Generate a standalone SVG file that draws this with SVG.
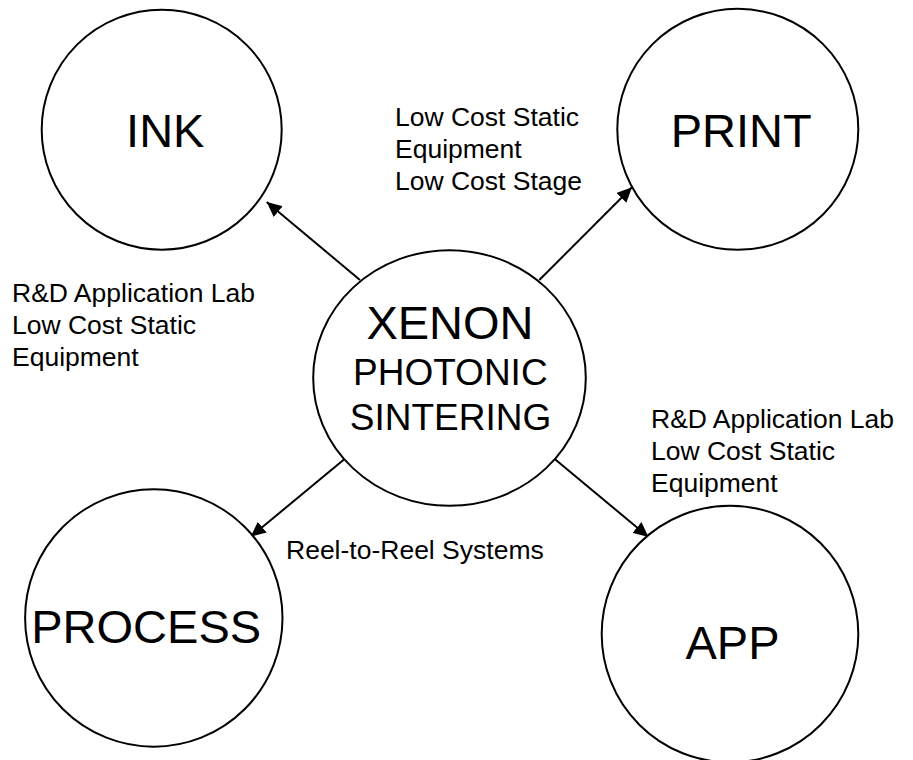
<svg xmlns="http://www.w3.org/2000/svg" width="913" height="760" viewBox="0 0 913 760">
<style>
  .node { fill: #ffffff; stroke: #000000; stroke-width: 2; }
  .big { font-family: "Liberation Sans", Arial, sans-serif; font-size: 47px; fill: #000; text-anchor: middle; }
  .mid { font-family: "Liberation Sans", Arial, sans-serif; font-size: 37px; fill: #000; text-anchor: middle; }
  .lbl { font-family: "Liberation Sans", Arial, sans-serif; font-size: 26.5px; fill: #000; }
  .conn { stroke: #000; stroke-width: 2; fill: none; marker-end: url(#arrow); }
</style>
<defs>
  <marker id="arrow" markerUnits="userSpaceOnUse" markerWidth="16" markerHeight="14" refX="15" refY="7" orient="auto">
    <path d="M0,0 L15,7 L0,14 z" fill="#000"/>
  </marker>
</defs>
<rect x="0" y="0" width="913" height="760" fill="#ffffff"/>
<g id="connectors">
  <line class="conn" x1="360" y1="280" x2="266.7" y2="202"/>
  <line class="conn" x1="539.3" y1="280" x2="632" y2="187.3"/>
  <line class="conn" x1="344.3" y1="459.3" x2="250.7" y2="536.7"/>
  <line class="conn" x1="555" y1="459.3" x2="648.5" y2="537"/>
</g>
<g id="ink">
  <circle class="node" cx="161.7" cy="129.7" r="120"/>
  <text class="big" x="165.3" y="146.7">INK</text>
</g>
<g id="print">
  <circle class="node" cx="737.8" cy="129.3" r="120.5"/>
  <text class="big" x="741.2" y="146.7">PRINT</text>
</g>
<g id="xenon">
  <ellipse class="node" cx="449.5" cy="378" rx="136.3" ry="127.8"/>
  <text class="big" x="450" y="339">XENON</text>
  <text class="mid" x="450.3" y="385">PHOTONIC</text>
  <text class="mid" x="450.5" y="430">SINTERING</text>
</g>
<g id="process">
  <circle class="node" cx="153.8" cy="618" r="128.7"/>
  <text class="big" x="146.2" y="643.3">PROCESS</text>
</g>
<g id="app">
  <circle class="node" cx="730" cy="634" r="128.3"/>
  <text class="big" x="732.5" y="659.3">APP</text>
</g>
<g id="labels">
  <text class="lbl" x="395" y="126">Low Cost Static</text>
  <text class="lbl" x="395" y="158">Equipment</text>
  <text class="lbl" x="395" y="190">Low Cost Stage</text>
  <text class="lbl" x="12" y="302">R&amp;D Application Lab</text>
  <text class="lbl" x="12" y="334">Low Cost Static</text>
  <text class="lbl" x="12" y="366">Equipment</text>
  <text class="lbl" x="651" y="428">R&amp;D Application Lab</text>
  <text class="lbl" x="651" y="460">Low Cost Static</text>
  <text class="lbl" x="651" y="492">Equipment</text>
  <text class="lbl" x="286" y="559">Reel-to-Reel Systems</text>
</g>
</svg>
